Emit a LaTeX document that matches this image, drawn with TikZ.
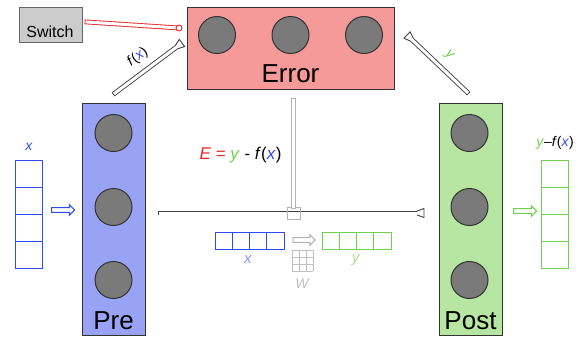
\documentclass[tikz,border=0pt]{standalone}
\usepackage{fontspec}
\setmainfont{Liberation Sans}
\usetikzlibrary{shapes, shapes.arrows, calc, positioning}

\definecolor{errfill}{RGB}{245,153,153}
\definecolor{prefill}{RGB}{153,163,245}
\definecolor{postfill}{RGB}{182,230,162}
\definecolor{unitfill}{RGB}{122,122,122}
\definecolor{vblue}{RGB}{45,75,245}
\definecolor{vgreen}{RGB}{110,210,80}
\definecolor{vred}{RGB}{230,40,40}
\definecolor{paleblue}{RGB}{140,155,240}
\definecolor{palegreen}{RGB}{175,220,140}

% flared head of a rod: colour, tip, foot
\newcommand{\rodhead}[3]{
  \coordinate (rh-m) at ($(#2)!7pt!(#3)$);
  \fill[white] ($(rh-m)!1.95pt!90:(#2)$) -- ($(#2)!4.5pt!-90:(#3)$)
    -- ($(#2)!4.5pt!90:(#3)$) -- ($(rh-m)!1.95pt!-90:(#2)$) -- cycle;
  \draw[#1, line width=0.9pt, line join=round] ($(rh-m)!1.95pt!90:(#2)$)
    -- ($(#2)!4.5pt!-90:(#3)$) -- ($(#2)!4.5pt!90:(#3)$) -- ($(rh-m)!1.95pt!-90:(#2)$);
}

\begin{document}
\begin{tikzpicture}[x=1pt, y=-1pt,
  layer/.style={draw=black!80, line width=1pt, inner sep=0pt},
  unit/.style={circle, draw=black!80, fill=unitfill, minimum size=37pt, line width=1pt},
  big/.style={font=\fontsize{26}{26}\selectfont, anchor=base},
  cell/.style={draw, fill=white, minimum size=27pt, inner sep=0pt, line width=1pt},
  smallcell/.style={draw, fill=white, minimum width=17.25pt, minimum height=17pt, inner sep=0pt, line width=1pt},
  hollow/.style={single arrow, fill=white, line width=1pt, minimum height=23pt,
    inner sep=1.8pt, single arrow head extend=3pt},
  rod/.style={draw=black!75, double=white, line width=0.9pt, double distance=3pt, line cap=rect},
  wgrid/.style={draw=black!25, line width=0.8pt},
  lbl/.style={font=\fontsize{14}{14}\selectfont}]

  \useasboundingbox (0,0) rectangle (586,341);

  % switch
  \node[layer, draw=black!60, fill=black!20, minimum width=63pt, minimum height=35pt] (switch) at (50.5,24.5) {};
  \node[font=\fontsize{16}{16}\selectfont, anchor=base] (switchlabel) at (50,37) {Switch};

  % error layer
  \node[layer, fill=errfill, minimum width=207pt, minimum height=82pt] (error) at (290.5,48) {};
  \foreach \i/\x in {1/217, 2/290.5, 3/364}
    \node[unit] (e\i) at (\x,35) {};
  \node[big] (errorlabel) at (290.5,82) {Error};

  % pre layer
  \node[layer, fill=prefill, minimum width=63pt, minimum height=232pt] (pre) at (113.5,219) {};
  \foreach \i/\y in {1/133, 2/207, 3/280}
    \node[unit] (p\i) at (113.5,\y) {};
  \node[big] (prelabel) at (113.5,329) {Pre};

  % post layer
  \node[layer, fill=postfill, minimum width=63pt, minimum height=232pt] (post) at (470.5,219) {};
  \foreach \i/\y in {1/133, 2/207, 3/280}
    \node[unit] (q\i) at (469.5,\y) {};
  \node[big] (postlabel) at (470.5,329) {Post};

  % input and output vectors
  \foreach \i in {1,...,4} {
    \node[cell, draw=vblue] (x\i) at (29,146.5+27*\i) {};
    \node[cell, draw=vgreen] (z\i) at (555,146.5+27*\i) {};
  }
  \node[lbl, vblue] (xlabel) at (29,147) {\textit{x}};
  \node[lbl] (zlabel) at (555,143)
    {\textcolor{vgreen}{\textit{y}}--\textit{f}(\textcolor{vblue}{\textit{x}})};
  \node[hollow, draw=vblue] (xin) at (62,210) {};
  \node[hollow, draw=vgreen] (zout) at (524,211) {};

  % rods
  \coordinate (swfoot) at (87,22);
  \coordinate (swend) at (179,28);
  \draw[rod, draw=vred] (swfoot) -- (swend);
  \draw[vred, fill=white, line width=0.9pt] (swend) circle (3pt);

  \coordinate (fxfoot) at (115,93);
  \coordinate (fxhead) at (182,43);
  \draw[rod] (fxfoot) -- node[lbl, sloped, above=5pt, pos=0.52] (fxlabel)
    {\textit{f}(\textcolor{vblue}{\textit{x}})} ($(fxhead)!7pt!(fxfoot)$);
  \rodhead{black!75}{fxhead}{fxfoot}

  \coordinate (yfoot) at (467,92);
  \coordinate (yhead) at (407,35);
  \draw[rod] ($(yhead)!7pt!(yfoot)$) -- node[lbl, sloped, above=5pt, vgreen] (ylabel)
    {\textit{y}} (yfoot);
  \rodhead{black!75}{yhead}{yfoot}

  \coordinate (hfoot) at (160,213);
  \coordinate (hhead) at (424,213);
  \draw[rod] (hfoot) -- ($(hhead)!7pt!(hfoot)$);
  \rodhead{black!75}{hhead}{hfoot}

  \node[draw=black!30, line width=0.9pt, minimum width=13pt, minimum height=12pt, inner sep=0pt] (synapse) at (293.5,213) {};
  \coordinate (errtap) at (293.5,100);
  \draw[rod, draw=black!30] (errtap) -- (synapse.north);

  \node[lbl, font=\fontsize{17}{17}\selectfont, vred, anchor=east] (rule) at (285,155)
    {\textit{E} = \textcolor{vgreen}{\textit{y}} \textcolor{black}{- \textit{f}(\textcolor{vblue}{\textit{x}})}};

  % weight sketch
  \foreach \i in {1,...,4} {
    \node[smallcell, draw=vblue] (sx\i) at (206.4+17.25*\i,240.5) {};
    \node[smallcell, draw=vgreen] (sy\i) at (313.4+17.25*\i,240.5) {};
  }
  \node[hollow, draw=black!30, minimum height=22pt] (sarrow) at (303,240) {};
  \foreach \k in {0,...,3} {
    \draw[wgrid] (292+7*\k,250) -- (292+7*\k,271);
    \draw[wgrid] (292,250+7*\k) -- (313,250+7*\k);
  }
  \node[lbl, font=\fontsize{15}{15}\selectfont, paleblue] (sxlabel) at (248,260) {\textit{x}};
  \node[lbl, font=\fontsize{15}{15}\selectfont, palegreen] (sylabel) at (356,260) {\textit{y}};
  \node[lbl, black!25] (wlabel) at (302.5,284) {\textit{W}};
\end{tikzpicture}
\end{document}
